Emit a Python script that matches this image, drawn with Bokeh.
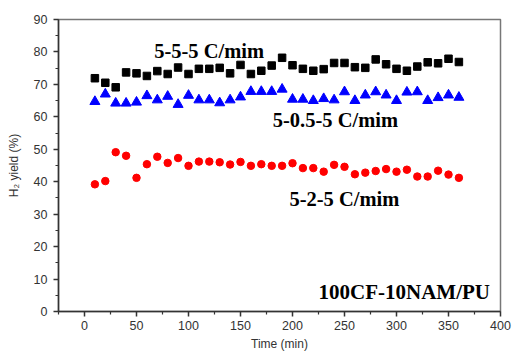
from bokeh.plotting import figure
from bokeh.models import FixedTicker, ColumnDataSource, Label
from bokeh.embed import file_html
from bokeh.resources import INLINE

time_min = [10, 20, 30, 40, 50, 60, 70, 80, 90, 100, 110, 120, 130, 140, 150, 160, 170, 180,
            190, 200, 210, 220, 230, 240, 250, 260, 270, 280, 290, 300, 310, 320, 330, 340, 350, 360]

rate_555 = [71.9, 70.5, 69.1, 73.7, 73.4, 72.6, 74.1, 73.2, 75.2, 73.2, 74.8, 74.8, 75.1, 73.4, 76.0, 73.2, 74.2, 75.8,
            78.2, 75.9, 74.8, 74.2, 74.7, 76.6, 76.6, 75.3, 75.1, 77.7, 76.2, 74.8, 74.2, 75.5, 76.8, 76.5, 77.9, 76.9]

rate_5055 = [64.7, 67.0, 64.2, 64.2, 64.5, 66.5, 65.2, 66.3, 63.8, 66.6, 65.2, 65.2, 64.3, 65.2, 66.1, 67.8, 67.8, 67.8,
             68.5, 65.4, 65.4, 65.0, 65.6, 65.2, 67.7, 65.0, 66.7, 67.7, 66.7, 65.0, 67.6, 67.7, 65.0, 65.9, 66.7, 66.0]

rate_525 = [39.2, 40.2, 49.1, 48.0, 41.2, 45.4, 47.7, 45.8, 47.3, 44.9, 46.2, 46.2, 46.0, 45.3, 46.1, 44.9, 45.4, 44.9,
            44.9, 45.7, 44.2, 44.2, 43.1, 45.2, 44.6, 42.3, 42.8, 43.3, 43.9, 43.1, 43.7, 41.6, 41.6, 43.4, 42.2, 41.2]

x_ticks = [0, 50, 100, 150, 200, 250, 300, 350, 400]
x_minor = [-25, 25, 75, 125, 175, 225, 275, 325, 375]
y_ticks = [0, 10, 20, 30, 40, 50, 60, 70, 80, 90]
y_minor = [5, 15, 25, 35, 45, 55, 65, 75, 85]

labels = ["5-5-5 C/mim", "5-0.5-5 C/mim", "5-2-5 C/mim", "100CF-10NAM/PU"]
label_x = [67, 181, 197, 225]
label_y = [80.3, 58.9, 34.7, 6.1]
label_size = ["20.5px", "20.5px", "20.5px", "21px"]

src = ColumnDataSource(dict(t=time_min, a=rate_555, b=rate_5055, c=rate_525))

p = figure(width=512, height=355, x_range=(-25, 400), y_range=(0, 90),
           output_backend="svg", toolbar_location=None,
           min_border_left=58, min_border_right=12, min_border_top=19, min_border_bottom=44)

p.scatter("t", "a", source=src, marker="square", size=7.5, color="black")
p.scatter("t", "b", source=src, marker="triangle", size=10, color="blue")
p.scatter("t", "c", source=src, marker="circle", size=7.5, color="red")

for txt, lx, ly, fs in zip(labels, label_x, label_y, label_size):
    p.add_layout(Label(x=lx, y=ly, text=txt, text_font="Liberation Serif", text_font_style="bold",
                       text_font_size=fs, text_color="black", text_baseline="alphabetic"))

p.xgrid.visible = False
p.ygrid.visible = False
p.outline_line_color = "#777777"
p.outline_line_width = 1.5
p.background_fill_color = "white"
p.border_fill_color = "white"

p.xaxis.ticker = FixedTicker(ticks=x_ticks, minor_ticks=x_minor)
p.yaxis.ticker = FixedTicker(ticks=y_ticks, minor_ticks=y_minor)
p.xaxis.axis_label = "Time (min)"
p.yaxis.axis_label = "H₂ yield (%)"

for ax in (p.xaxis[0], p.yaxis[0]):
    ax.axis_line_color = "#333333"
    ax.axis_line_width = 1.5
    ax.major_tick_line_color = "#333333"
    ax.minor_tick_line_color = "#333333"
    ax.major_tick_line_width = 1.5
    ax.minor_tick_line_width = 1.2
    ax.major_tick_out = 5
    ax.major_tick_in = 0
    ax.minor_tick_out = 3
    ax.minor_tick_in = 0
    ax.major_label_text_font = "Liberation Sans"
    ax.major_label_text_font_size = "12.5px"
    ax.major_label_text_color = "#333333"
    ax.axis_label_text_font = "Liberation Sans"
    ax.axis_label_text_font_size = "12px"
    ax.axis_label_text_font_style = "normal"
    ax.axis_label_text_color = "#333333"

p.yaxis.major_label_standoff = 6
p.yaxis.axis_label_standoff = 10
p.xaxis.major_label_standoff = 4
p.xaxis.axis_label_standoff = 4

open("out.html", "w").write(file_html(p, INLINE))
